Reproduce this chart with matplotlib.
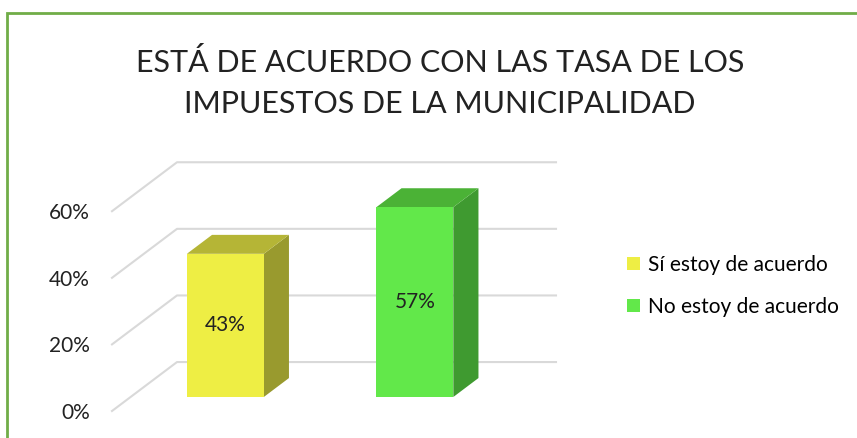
import matplotlib.pyplot as plt
from matplotlib.patches import Polygon, Patch, Rectangle

plt.rcParams['font.family'] = ['Lato', 'DejaVu Sans']

categories = ['Sí estoy de acuerdo', 'No estoy de acuerdo']
values = [0.43, 0.57]
tick_vals = [0.0, 0.2, 0.4, 0.6]
tick_labels = ['0%', '20%', '40%', '60%']
title = 'ESTÁ DE ACUERDO CON LAS TASA DE LOS\nIMPUESTOS DE LA MUNICIPALIDAD'

front_cols = ['#EEEE44', '#62E84A']
top_cols = ['#B5B536', '#4BB236']
side_cols = ['#999A2E', '#3F9A30']

# fake 3d: depth vector in data units
DX, DY = 0.343, 0.147
d0, d1 = 0.286, 0.673
w = 0.406


def proj(x, y, d):
    return (x + d * DX, y + d * DY)


W, H = 857, 438
fig = plt.figure(figsize=(W / 100, H / 100), dpi=100)
ax = fig.add_axes([112 / W, (H - 411) / H, 379 / W, 0.75 * 333 / H])
ax.set_xlim(-0.5, 1.5)
ax.set_ylim(0, 0.75)
for s in ax.spines.values():
    s.set_visible(False)
ax.set_xticks([])
ax.set_yticks(tick_vals)
ax.set_yticklabels(tick_labels, fontsize=15, color='#222222')
ax.tick_params(axis='y', length=0, pad=16)

# gridlines (floor edge + back wall)
for v in tick_vals:
    p0 = proj(-0.5, v, 0)
    p1 = proj(-0.5, v, 1)
    p2 = proj(1.5, v, 1)
    ax.plot([p0[0], p1[0], p2[0]], [p0[1], p1[1], p2[1]], color='#D9D9D9',
            lw=1.5, clip_on=False, zorder=1)

for i, v in enumerate(values):
    xl, xr = i - w / 2, i + w / 2
    front = [proj(xl, 0, d0), proj(xr, 0, d0), proj(xr, v, d0), proj(xl, v, d0)]
    top = [proj(xl, v, d0), proj(xr, v, d0), proj(xr, v, d1), proj(xl, v, d1)]
    side = [proj(xr, 0, d0), proj(xr, 0, d1), proj(xr, v, d1), proj(xr, v, d0)]
    ax.add_patch(Polygon(side, closed=True, fc=side_cols[i], ec='none', clip_on=False, zorder=3))
    ax.add_patch(Polygon(top, closed=True, fc=top_cols[i], ec='none', clip_on=False, zorder=3))
    ax.add_patch(Polygon(front, closed=True, fc=front_cols[i], ec='none', clip_on=False, zorder=4))
    cx, cy = proj(i, v / 2, d0)
    ax.text(cx, cy, f'{round(v * 100)}%', ha='center', va='center',
            fontsize=15, color='#222222', zorder=5)

fig.text(440 / W, 1 - 83 / H, title, ha='center', va='center',
         fontsize=22, color='#222222', linespacing=1.55)

handles = [Patch(fc=c, ec='none') for c in front_cols]
fig.legend(handles, categories, loc='center left',
           bbox_to_anchor=(619 / W, 1 - 286 / H), frameon=False,
           fontsize=15, handlelength=0.6, handleheight=0.6,
           handletextpad=0.4, labelspacing=1.05, borderaxespad=0)

# outer green border
fig.patches.append(Rectangle((7 / W, -0.05), 1.2, 1 - 13 / H + 0.05,
                             transform=fig.transFigure, fill=False,
                             ec='#70AD47', lw=2, clip_on=False))

fig.savefig('out.png', dpi=100)
